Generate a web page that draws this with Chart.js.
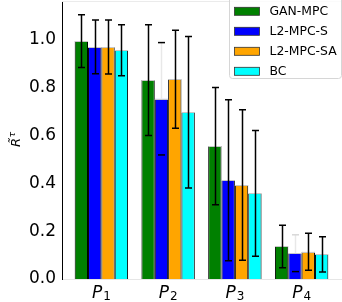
<!DOCTYPE html>
<html>
<head>
<meta charset="utf-8">
<script src="https://cdn.jsdelivr.net/npm/chart.js@4.4.1/dist/chart.umd.min.js"></script>
<style>
  html, body { margin: 0; padding: 0; background: #fff; }
  canvas { display: block; }
</style>
</head>
<body>
<canvas id="chart" width="342" height="302"></canvas>
<script>
// Return ratio per scenario, mean and std
const scenarios = ['1', '2', '3', '4'];   // P subscripts
const scenarioPos = [0, 1, 2, 3];
const yTicks = [0.0, 0.2, 0.4, 0.6, 0.8, 1.0];

const ganMpc      = [0.995, 0.832, 0.556, 0.136];
const ganMpcErr   = [0.110, 0.232, 0.245, 0.089];
const l2MpcS      = [0.971, 0.754, 0.413, 0.108];
const l2MpcSErr   = [0.112, 0.235, 0.337, 0.077];
const l2MpcSA     = [0.971, 0.836, 0.393, 0.114];
const l2MpcSAErr  = [0.113, 0.205, 0.315, 0.077];
const bc          = [0.957, 0.698, 0.358, 0.103];
const bcErr       = [0.107, 0.317, 0.263, 0.074];

const series = [
  { label: 'GAN-MPC',    values: ganMpc,  err: ganMpcErr,  color: '#008000' },
  { label: 'L2-MPC-S',   values: l2MpcS,  err: l2MpcSErr,  color: '#0000ff' },
  { label: 'L2-MPC-SA',  values: l2MpcSA, err: l2MpcSAErr, color: '#ffa500' },
  { label: 'BC',         values: bc,      err: bcErr,      color: '#00ffff' }
];

// whiskers that come out faint in the original render [dataset, index]
const faintWhiskers = [[1, 1], [1, 3]];

const FONT = 'DejaVu Sans';

/**
 * Error bars, bar top edges, top spine, x labels, y title, legend.
 */
const decorPlugin = {
  id: 'decor',
  afterDatasetsDraw(chart) {
    const ctx = chart.ctx;
    const yScale = chart.scales.y;
    ctx.save();

    // light top edge on each bar
    chart.data.datasets.forEach((ds, di) => {
      chart.getDatasetMeta(di).data.forEach(bar => {
        const half = bar.width / 2;
        ctx.strokeStyle = '#c8c8c8';
        ctx.lineWidth = 1;
        ctx.beginPath();
        ctx.moveTo(bar.x - half, Math.round(bar.y) + 0.5);
        ctx.lineTo(bar.x + half, Math.round(bar.y) + 0.5);
        ctx.stroke();
      });
    });

    // error bars
    chart.data.datasets.forEach((ds, di) => {
      const errs = series[di].err;
      chart.getDatasetMeta(di).data.forEach((bar, i) => {
        const v = series[di].values[i];
        const yHi = yScale.getPixelForValue(v + errs[i]);
        const yLo = yScale.getPixelForValue(v - errs[i]);
        const x = Math.round(bar.x) + 0.5;
        const faint = faintWhiskers.some(p => p[0] === di && p[1] === i);
        ctx.lineWidth = 1.5;
        if (faint) {
          ctx.strokeStyle = '#e8e8e8';
          ctx.beginPath();
          ctx.moveTo(x, yHi);
          ctx.lineTo(x, bar.y);
          ctx.stroke();
          ctx.strokeStyle = i === 1 ? '#000' : '#d8d8d8';
          ctx.beginPath();
          ctx.moveTo(x - 3.5, yHi); ctx.lineTo(x + 3.5, yHi);
          ctx.stroke();
          ctx.strokeStyle = '#000';
          ctx.beginPath();
          ctx.moveTo(x - 3.5, yLo); ctx.lineTo(x + 3.5, yLo);
          ctx.stroke();
          return;
        }
        ctx.strokeStyle = '#000';
        ctx.beginPath();
        ctx.moveTo(x, yHi);
        ctx.lineTo(x, yLo);
        ctx.moveTo(x - 3.5, yHi); ctx.lineTo(x + 3.5, yHi);
        ctx.moveTo(x - 3.5, yLo); ctx.lineTo(x + 3.5, yLo);
        ctx.stroke();
      });
    });
    ctx.restore();
  },
  afterDraw(chart) {
    const ctx = chart.ctx;
    const area = chart.chartArea;
    const xScale = chart.scales.x;
    ctx.save();

    // faint top spine
    ctx.strokeStyle = '#ebebeb';
    ctx.lineWidth = 1;
    ctx.beginPath();
    ctx.moveTo(area.left, area.top + 0.5);
    ctx.lineTo(area.right, area.top + 0.5);
    ctx.stroke();

    // x tick labels  P_1 .. P_4
    ctx.fillStyle = '#000';
    ctx.textBaseline = 'alphabetic';
    scenarios.forEach((sub, i) => {
      const cx = xScale.getPixelForValue(scenarioPos[i]);
      ctx.font = 'italic 17px ' + FONT;
      const wP = ctx.measureText('P').width;
      ctx.font = '12px ' + FONT;
      const wS = ctx.measureText(sub).width;
      const x0 = cx - (wP + wS + 1) / 2;
      ctx.font = 'italic 17px ' + FONT;
      ctx.fillText('P', x0, 297.5);
      ctx.font = '12px ' + FONT;
      ctx.fillText(sub, x0 + wP + 1, 300);
    });

    // y title  R~^tau
    ctx.save();
    ctx.translate(20, 147);
    ctx.rotate(-Math.PI / 2);
    ctx.font = 'italic 13px ' + FONT;
    const wR = ctx.measureText('R').width;
    ctx.fillText('R', 0, 0);
    ctx.textAlign = 'center';
    ctx.fillText('\u02dc', wR / 2 + 1, -2.5);
    ctx.textAlign = 'left';
    ctx.font = 'italic 9.5px ' + FONT;
    ctx.fillText('\u03c4', wR + 0.5, -5.5);
    ctx.restore();

    // legend
    const lx = 229.5, ly = -4.5, lw = 112, lh = 83;
    ctx.fillStyle = 'rgba(255,255,255,0.8)';
    ctx.strokeStyle = '#d6d6d6';
    ctx.lineWidth = 1;
    ctx.beginPath();
    ctx.roundRect(lx, ly, lw, lh, 3);
    ctx.fill();
    ctx.stroke();
    ctx.font = '12.4px ' + FONT;
    ctx.textBaseline = 'middle';
    series.forEach((s, i) => {
      const rowY = 11.3 + i * 20;
      ctx.fillStyle = s.color;
      ctx.fillRect(234.5, rowY - 4, 25, 8);
      ctx.strokeStyle = '#333';
      ctx.lineWidth = 0.8;
      ctx.strokeRect(234.5, rowY - 4, 25, 8);
      ctx.fillStyle = '#000';
      ctx.fillText(s.label, 269.5, rowY + 0.5);
    });

    ctx.restore();
  }
};

new Chart(document.getElementById('chart').getContext('2d'), {
  type: 'bar',
  data: {
    datasets: series.map(s => ({
      label: s.label,
      data: s.values.map((v, i) => ({ x: scenarioPos[i], y: v })),
      backgroundColor: s.color,
      borderColor: '#000',
      borderWidth: { left: 1, right: 1, top: 0, bottom: 0 },
      borderSkipped: false,
      categoryPercentage: 0.8,
      barPercentage: 1.0
    }))
  },
  options: {
    responsive: false,
    animation: false,
    layout: { padding: { top: 1, right: 1, left: 0, bottom: 0 } },
    plugins: {
      legend: { display: false },
      tooltip: { enabled: false }
    },
    scales: {
      x: {
        type: 'linear',
        min: -0.59,
        max: 3.59,
        offset: false,
        grid: { display: false },
        border: { color: '#e6e6e6', width: 1 },
        ticks: { display: false },
        afterBuildTicks: (scale) => { scale.ticks = scenarioPos.map(v => ({ value: v })); },
        afterFit: (scale) => {
          scale.height = 23;
          scale.paddingLeft = 0; scale.paddingRight = 0;
        }
      },
      y: {
        min: 0,
        max: 1.163,
        grid: { display: false, drawTicks: false },
        border: { color: '#000', width: 1 },
        ticks: {
          color: '#000',
          padding: 6,
          font: { size: 17, family: FONT },
          callback: (v) => v.toFixed(1)
        },
        afterBuildTicks: (scale) => { scale.ticks = yTicks.map(v => ({ value: v })); },
        afterFit: (scale) => {
          scale.width = 62;
          scale.paddingTop = 0; scale.paddingBottom = 0;
        }
      }
    }
  },
  plugins: [decorPlugin]
});
</script>
</body>
</html>
